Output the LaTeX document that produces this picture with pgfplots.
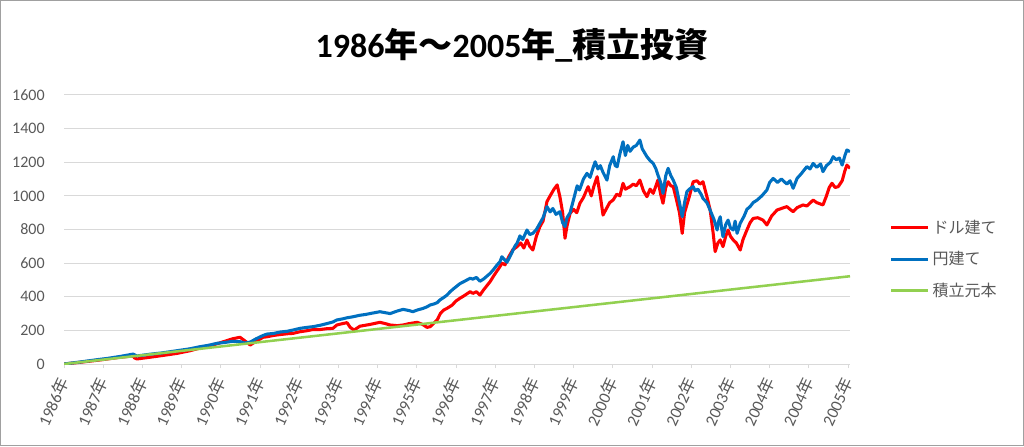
\documentclass[border=0pt]{standalone}
\usepackage{pgfplots}
\pgfplotsset{compat=1.18}
\usepackage{fontspec}
\setmainfont{Carlito}
\newfontfamily\jp{Noto Sans CJK JP}
\definecolor{cred}{HTML}{FF0000}
\definecolor{cblue}{HTML}{0070C0}
\definecolor{cgreen}{HTML}{92D050}
\definecolor{gridgray}{HTML}{D9D9D9}
\definecolor{ticktext}{HTML}{595959}
\definecolor{bordergray}{HTML}{A0A0A0}
\newcommand{\nen}{{\jp 年}}
\begin{document}
\begin{tikzpicture}
\draw[color=bordergray, line width=0.75pt] (0.375pt,0.375pt) rectangle (767.625pt,334.125pt);
\node[font=\fontsize{25.5}{30}\selectfont\bfseries] at (384pt,300.75pt) {1986{\jp 年～}2005{\jp 年}\_{\jp 積立投資}};
\begin{axis}[
  at={(48pt,61.5pt)}, anchor=south west,
  scale only axis, width=589.5pt, height=201.75pt,
  xmin=0, xmax=20.05, ymin=0, ymax=1600,
  ytick={0,200,...,1600},
  ymajorgrids, grid style={color=gridgray, line width=0.75pt},
  axis x line=bottom, axis y line=left,
  x axis line style={gridgray, line width=0.75pt, -},
  y axis line style={draw=none},
  ytick style={draw=none},
  xtick={0,...,20},
  xticklabels={1986\nen,1987\nen,1988\nen,1989\nen,1990\nen,1991\nen,1992\nen,1993\nen,1994\nen,1995\nen,1996\nen,1997\nen,1998\nen,1999\nen,2000\nen,2001\nen,2002\nen,2003\nen,2004\nen,2004\nen,2005\nen},
  xtick style={gridgray, line width=0.75pt},
  tick align=outside, major tick length=3pt,
  /pgf/number format/assume math mode=true,
  /pgf/number format/set thousands separator={},
  ticklabel style={font=\fontsize{12}{14}\selectfont, text=ticktext},
  yticklabel style={anchor=east, xshift=-8pt},
  xticklabel style={rotate=65, anchor=east, inner sep=0pt, font=\fontsize{12.5}{14}\selectfont},
  xticklabel shift=8pt,
  legend style={at={(1.045,0.39)}, anchor=west, draw=none, fill=none,
    font=\jp\fontsize{12}{14}\selectfont, text=ticktext, row sep=8pt},
  legend cell align=left,
  legend image code/.code={\draw[#1, line width=2.25pt] (0pt,0pt) -- (28pt,0pt);},
]
\addplot[cred, line width=2.3pt, line join=round] coordinates {
(0,0) (0.41,10) (0.92,24) (1.43,40) (1.76,48) (1.8,36) (1.86,30) (2.19,40) (2.5,50) (2.88,63) (3.2,78) (3.47,95) (3.7,108) (3.90,120) (4.1,135) (4.3,150) (4.49,159) (4.6,140) (4.75,113) (4.9,135) (5.08,159) (5.18,162) (5.35,170) (5.51,175) (5.7,180) (5.84,182) (6.02,192) (6.2,198) (6.35,205) (6.53,205) (6.7,210) (6.86,212) (6.96,232) (7.1,240) (7.22,246) (7.30,218) (7.40,202) (7.55,225) (7.8,235) (8.06,248) (8.2,240) (8.32,232) (8.5,228) (8.65,232) (8.8,240) (9.01,248) (9.15,235) (9.26,218) (9.34,222) (9.42,240) (9.52,262) (9.6,300) (9.68,320) (9.77,331) (9.9,350) (10.0,375) (10.10,391) (10.2,405) (10.36,430) (10.43,420) (10.52,430) (10.61,410) (10.7,440) (10.87,490) (10.95,520) (11.05,555) (11.12,579) (11.17,600) (11.25,590) (11.35,640) (11.45,680) (11.56,698) (11.65,720) (11.73,690) (11.81,738) (11.88,700) (11.96,678) (12.05,760) (12.14,817) (12.22,850) (12.32,966) (12.4,1000) (12.5,1040) (12.58,1065) (12.65,995) (12.72,900) (12.78,748) (12.83,820) (12.91,896) (13.0,920) (13.08,900) (13.16,956) (13.25,990) (13.37,1055) (13.45,1000) (13.52,1060) (13.60,1114) (13.68,1000) (13.75,886) (13.85,930) (13.92,960) (14.01,976) (14.1,1010) (14.18,1000) (14.26,1075) (14.32,1040) (14.44,1055) (14.52,1070) (14.6,1060) (14.69,1094) (14.78,1030) (14.87,995) (14.95,1040) (15.03,1015) (15.1,1060) (15.15,1094) (15.22,1010) (15.28,956) (15.35,1050) (15.41,1084) (15.48,1060) (15.54,1055) (15.62,980) (15.7,900) (15.77,777) (15.83,900) (15.95,995) (16.05,1084) (16.15,1090) (16.22,1070) (16.30,1084) (16.40,995) (16.48,920) (16.56,777) (16.61,668) (16.68,720) (16.74,738) (16.81,698) (16.88,760) (16.94,797) (17.0,760) (17.07,738) (17.15,720) (17.25,678) (17.32,740) (17.42,797) (17.5,840) (17.58,866) (17.7,870) (17.83,856) (17.93,827) (18.05,880) (18.19,916) (18.3,925) (18.44,936) (18.52,920) (18.60,906) (18.7,930) (18.85,946) (18.95,940) (19.11,975) (19.2,960) (19.36,946) (19.45,1000) (19.52,1050) (19.59,1075) (19.67,1050) (19.75,1055) (19.85,1090) (19.92,1150) (19.97,1183) (20.05,1164)
};
\addlegendentry{ドル建て}
\addplot[cblue, line width=2.3pt, line join=round] coordinates {
(0,0) (0.2,6) (0.41,12) (0.6,18) (0.92,28) (1.1,33) (1.43,45) (1.6,52) (1.76,59) (1.8,55) (1.86,48) (2.0,52) (2.19,58) (2.5,66) (2.88,79) (3.2,90) (3.47,103) (3.7,112) (3.90,123) (4.1,128) (4.3,135) (4.49,133) (4.6,125) (4.75,130) (4.9,150) (5.08,170) (5.18,178) (5.35,182) (5.51,190) (5.7,195) (5.84,202) (6.02,212) (6.2,218) (6.35,222) (6.53,230) (6.7,240) (6.86,250) (6.96,262) (7.1,268) (7.22,275) (7.35,280) (7.55,290) (7.7,295) (7.85,302) (8.06,311) (8.2,305) (8.32,300) (8.5,315) (8.65,325) (8.8,318) (8.90,311) (9.01,321) (9.15,330) (9.26,340) (9.34,351) (9.45,358) (9.52,365) (9.59,381) (9.7,398) (9.77,410) (9.85,430) (9.95,450) (10.10,478) (10.2,490) (10.36,510) (10.43,505) (10.52,515) (10.61,492) (10.7,505) (10.87,539) (10.95,560) (11.05,590) (11.12,608) (11.17,638) (11.22,625) (11.30,605) (11.4,650) (11.5,700) (11.56,720) (11.63,762) (11.7,740) (11.81,797) (11.88,770) (11.96,777) (12.05,800) (12.14,837) (12.22,870) (12.32,936) (12.4,905) (12.47,925) (12.55,890) (12.65,906) (12.72,840) (12.78,817) (12.83,870) (12.91,900) (13.0,980) (13.09,1060) (13.15,1035) (13.25,1100) (13.34,1134) (13.42,1110) (13.5,1170) (13.55,1203) (13.62,1160) (13.68,1180) (13.75,1140) (13.85,1094) (13.92,1180) (14.01,1233) (14.06,1180) (14.11,1173) (14.18,1250) (14.26,1322) (14.32,1240) (14.38,1300) (14.44,1265) (14.52,1290) (14.6,1300) (14.69,1332) (14.75,1280) (14.87,1233) (14.95,1210) (15.03,1193) (15.1,1160) (15.15,1124) (15.22,1080) (15.28,1015) (15.35,1120) (15.41,1164) (15.48,1120) (15.54,1094) (15.62,1050) (15.7,960) (15.77,876) (15.83,960) (15.89,1025) (15.95,1040) (16.05,1055) (16.1,1030) (16.17,1040) (16.25,1010) (16.30,985) (16.4,960) (16.48,916) (16.58,860) (16.66,797) (16.7,850) (16.74,876) (16.78,800) (16.81,757) (16.88,830) (16.94,856) (17.0,810) (17.07,797) (17.12,850) (17.17,777) (17.25,837) (17.35,880) (17.42,920) (17.50,936) (17.58,960) (17.68,975) (17.8,1000) (17.93,1035) (18.0,1080) (18.09,1104) (18.2,1080) (18.3,1100) (18.44,1070) (18.52,1090) (18.60,1045) (18.70,1104) (18.8,1130) (18.95,1174) (19.03,1160) (19.11,1193) (19.2,1170) (19.3,1190) (19.36,1144) (19.45,1180) (19.55,1200) (19.62,1233) (19.7,1215) (19.78,1225) (19.85,1183) (19.92,1240) (19.97,1273) (20.05,1263)
};
\addlegendentry{円建て}
\addplot[cgreen, line width=1.9pt] coordinates {(0,0) (20.05,522)};
\addlegendentry{積立元本}
\end{axis}
\end{tikzpicture}
\end{document}
